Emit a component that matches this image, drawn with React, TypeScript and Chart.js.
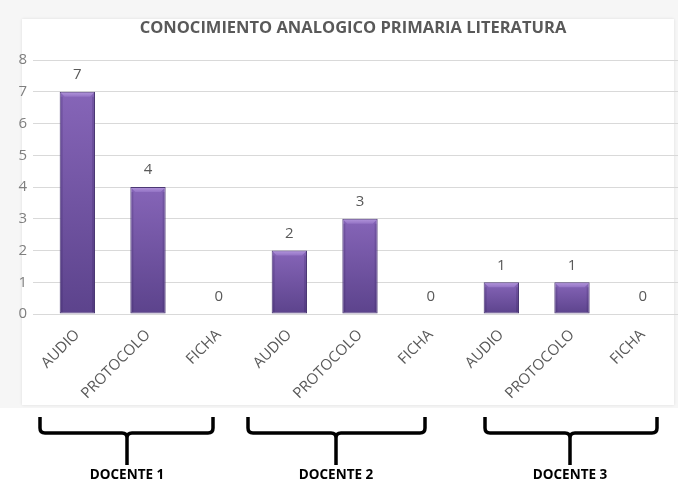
import React, { useEffect, useRef } from "react";
import { Chart, registerables } from "chart.js";

Chart.register(...registerables);

const categories = ["AUDIO", "PROTOCOLO", "FICHA", "AUDIO", "PROTOCOLO", "FICHA", "AUDIO", "PROTOCOLO", "FICHA"];
const values = [7, 4, 0, 2, 3, 0, 1, 1, 0];
const yTicks = [0, 1, 2, 3, 4, 5, 6, 7, 8];
const groupLabels = ["DOCENTE 1", "DOCENTE 2", "DOCENTE 3"];
const chartTitle = "CONOCIMIENTO ANALOGICO PRIMARIA LITERATURA";

const FONT = "'Open Sans', 'DejaVu Sans', sans-serif";

const bracePositions = [
  { x1: 40, x2: 213, c: 127 },
  { x1: 248, x2: 425, c: 336 },
  { x1: 485, x2: 657, c: 570 },
];

const bevelPlugin = {
  id: "bevel",
  afterDatasetsDraw(chart: any) {
    const ctx = chart.ctx;
    const meta = chart.getDatasetMeta(0);
    ctx.save();
    meta.data.forEach((el: any, i: number) => {
      const v = values[i];
      const half = el.width / 2;
      const top = el.y;
      const bottom = el.base;
      if (v > 0) {
        const b = 5;
        ctx.beginPath();
        ctx.moveTo(el.x - half + 1, top + 1);
        ctx.lineTo(el.x + half - 1, top + 1);
        ctx.lineTo(el.x + half - b, top + b);
        ctx.lineTo(el.x - half + b, top + b);
        ctx.closePath();
        const g = ctx.createLinearGradient(0, top, 0, top + b);
        g.addColorStop(0, "#b497dd");
        g.addColorStop(1, "#9373c4");
        ctx.fillStyle = g;
        ctx.fill();
        ctx.fillStyle = "rgba(40,20,80,0.18)";
        ctx.fillRect(el.x - half + 1, top + b, 2, bottom - top - b - 1);
        ctx.fillRect(el.x + half - 3, top + b, 2, bottom - top - b - 1);
      }
      ctx.fillStyle = "#595959";
      ctx.font = `15px ${FONT}`;
      ctx.textAlign = "center";
      ctx.textBaseline = "middle";
      ctx.fillText(String(v), el.x, top - 17);
    });
    ctx.restore();
  },
};

function Brace({ x1, x2, c }: { x1: number; x2: number; c: number }) {
  const t = 417;
  const h = 433;
  const s = 465;
  const r = 5;
  const d = `M ${x1} ${t} L ${x1} ${h - r} Q ${x1} ${h} ${x1 + r} ${h} L ${c - r} ${h} Q ${c} ${h} ${c} ${h + r} L ${c} ${s} M ${c} ${h + r} Q ${c} ${h} ${c + r} ${h} L ${x2 - r} ${h} Q ${x2} ${h} ${x2} ${h - r} L ${x2} ${t}`;
  return <path d={d} fill="none" stroke="#000" strokeWidth={3.5} strokeLinecap="butt" />;
}

export default function App() {
  const ref = useRef<HTMLCanvasElement | null>(null);

  useEffect(() => {
    if (!ref.current) return;
    const chart = new Chart(ref.current, {
      type: "bar",
      data: {
        labels: categories,
        datasets: [
          {
            data: values,
            categoryPercentage: 1,
            barPercentage: 0.5,
            borderColor: "#4b3873",
            borderWidth: (c: any) => (values[c.dataIndex] > 0 ? 1 : 0),
            borderSkipped: false,
            backgroundColor: (c: any) => {
              const ch = c.chart;
              const y = ch.scales && ch.scales.y;
              if (!y || c.dataIndex === undefined) return "#6f52a0";
              const top = y.getPixelForValue(values[c.dataIndex]);
              const bottom = y.getPixelForValue(0);
              if (!(bottom > top)) return "#6f52a0";
              const g = ch.ctx.createLinearGradient(0, top, 0, bottom);
              g.addColorStop(0, "#8665b8");
              g.addColorStop(1, "#5c438c");
              return g;
            },
          },
        ],
      },
      options: {
        responsive: false,
        animation: false,
        layout: { padding: { top: 60, left: 0, right: 0, bottom: 0 } },
        plugins: {
          legend: { display: false },
          title: { display: false },
          tooltip: { enabled: false },
        },
        scales: {
          x: {
            offset: true,
            grid: { display: false },
            border: { display: true, color: "#d9d9d9", width: 1 },
            ticks: {
              color: "#595959",
              font: { family: FONT, size: 15 },
              minRotation: 45,
              maxRotation: 45,
              autoSkip: false,
              padding: 4,
            },
            afterFit(scale: any) {
              scale.height = 106;
            },
          },
          y: {
            min: 0,
            max: 8,
            afterBuildTicks(scale: any) {
              scale.ticks = yTicks.map((v) => ({ value: v }));
            },
            grid: { color: "#d9d9d9", tickLength: 9, drawTicks: true },
            border: { display: false },
            ticks: {
              color: "#7f7f7f",
              font: { family: FONT, size: 15 },
              padding: 6,
            },
            afterFit(scale: any) {
              scale.width = 42;
            },
          },
        },
      },
      plugins: [bevelPlugin],
    } as any);
    return () => chart.destroy();
  }, []);

  return (
    <div style={{ position: "absolute", left: 0, top: 0, width: 678, height: 483, background: "#ffffff", overflow: "hidden" }}>
      <div style={{ position: "absolute", left: 0, top: 0, width: 678, height: 408, background: "#f6f6f6" }} />
      <div
        style={{
          position: "absolute",
          left: 22,
          top: 19,
          width: 652,
          height: 386,
          background: "#ffffff",
          boxShadow: "0 0 3px rgba(0,0,0,0.10)",
        }}
      />
      <canvas ref={ref} width={678} height={420} style={{ position: "absolute", left: 0, top: 0, width: 678, height: 420 }} />
      <div
        style={{
          position: "absolute",
          left: 353 - 300,
          top: 15,
          width: 600,
          textAlign: "center",
          fontFamily: FONT,
          fontWeight: 700,
          fontSize: 16.5,
          color: "#595959",
          whiteSpace: "nowrap",
        }}
      >
        {chartTitle}
      </div>
      <svg width={678} height={483} style={{ position: "absolute", left: 0, top: 0 }}>
        {bracePositions.map((b, i) => (
          <Brace key={i} {...b} />
        ))}
      </svg>
      {groupLabels.map((g, i) => (
        <div
          key={g}
          style={{
            position: "absolute",
            left: bracePositions[i].c - 80,
            top: 465,
            width: 160,
            textAlign: "center",
            fontFamily: FONT,
            fontWeight: 700,
            fontSize: 13.5,
            color: "#000",
            whiteSpace: "nowrap",
          }}
        >
          {g}
        </div>
      ))}
    </div>
  );
}
